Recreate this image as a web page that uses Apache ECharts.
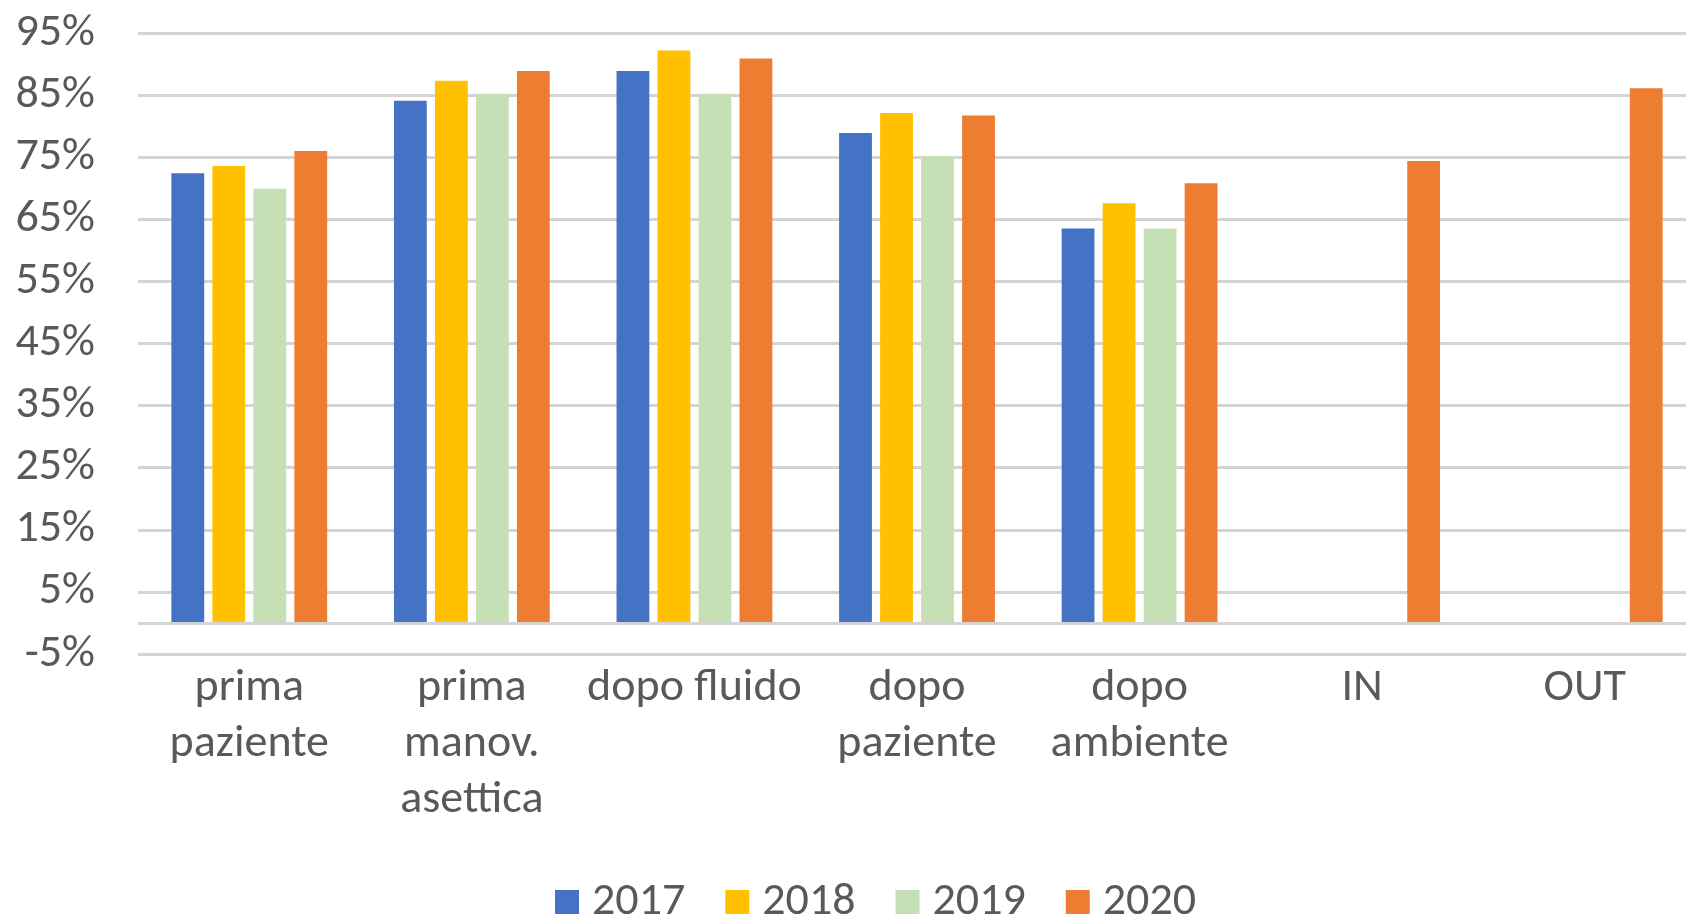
<!DOCTYPE html>
<html>
<head>
<meta charset="utf-8">
<script src="https://cdn.jsdelivr.net/npm/echarts@6/dist/echarts.min.js"></script>
<style>
  html, body { margin: 0; padding: 0; background: #fff; }
  #chart { width: 1686px; height: 917px; }
</style>
</head>
<body>
<div id="chart"></div>
<script>
const categories = ["prima\npaziente", "prima\nmanov.\nasettica", "dopo fluido", "dopo\npaziente", "dopo\nambiente", "IN", "OUT"];
const years = ["2017", "2018", "2019", "2020"];
const data2017 = [72.4, 84.1, 88.9, 78.9, 63.5, null, null];
const data2018 = [73.6, 87.3, 92.2, 82.1, 67.6, null, null];
const data2019 = [69.9, 85.2, 85.2, 75.2, 63.5, null, null];
const data2020 = [76.0, 88.9, 90.9, 81.7, 70.8, 74.4, 86.1];
const colors = ["#4472C4", "#FFC000", "#C5E0B4", "#ED7D31"];

const fontFamily = "Carlito, 'Liberation Sans', sans-serif";
const textColor = "#595959";
const gridColor = "#d4d4d4";

const chart = echarts.init(document.getElementById("chart"));

const seriesData = [data2017, data2018, data2019, data2020];
const series = years.map((name, i) => {
  const s = {
    name: name,
    type: "bar",
    data: seriesData[i],
    barGap: "25%",
    barCategoryGap: "30%",
    itemStyle: { color: colors[i] },
  };
  if (i === 3) {
    // Excel draws the horizontal axis line at 0
    s.markLine = {
      silent: true,
      symbol: "none",
      label: { show: false },
      lineStyle: { color: gridColor, width: 3, type: "solid" },
      data: [{ yAxis: 0 }],
    };
  }
  return s;
});

const option = {
  animation: false,
  color: colors,
  grid: {
    left: 138,
    right: -10,
    top: 33,
    bottom: 263,
    outerBoundsMode: "none",
  },
  legend: {
    data: years,
    left: 550,
    top: 874,
    itemWidth: 24,
    itemHeight: 24,
    itemGap: 40,
    icon: "rect",
    textStyle: {
      color: textColor,
      fontSize: 46,
      fontFamily: fontFamily,
      padding: [0, 0, 0, 8],
    },
  },
  xAxis: {
    type: "category",
    data: categories,
    axisLine: { show: false, onZero: false },
    axisTick: { show: false },
    axisLabel: {
      interval: 0,
      margin: 6,
      color: textColor,
      fontSize: 46,
      lineHeight: 56,
      fontFamily: fontFamily,
    },
  },
  yAxis: {
    type: "value",
    min: -5,
    max: 95,
    interval: 10,
    axisLine: { show: false },
    axisTick: { show: false },
    axisLabel: {
      margin: 43,
      color: textColor,
      fontSize: 46,
      fontFamily: fontFamily,
      formatter: "{value}%",
    },
    splitLine: {
      lineStyle: { color: gridColor, width: 3 },
    },
  },
  series: series,
};

chart.setOption(option);
window.addEventListener("resize", () => chart.resize());
</script>
</body>
</html>
